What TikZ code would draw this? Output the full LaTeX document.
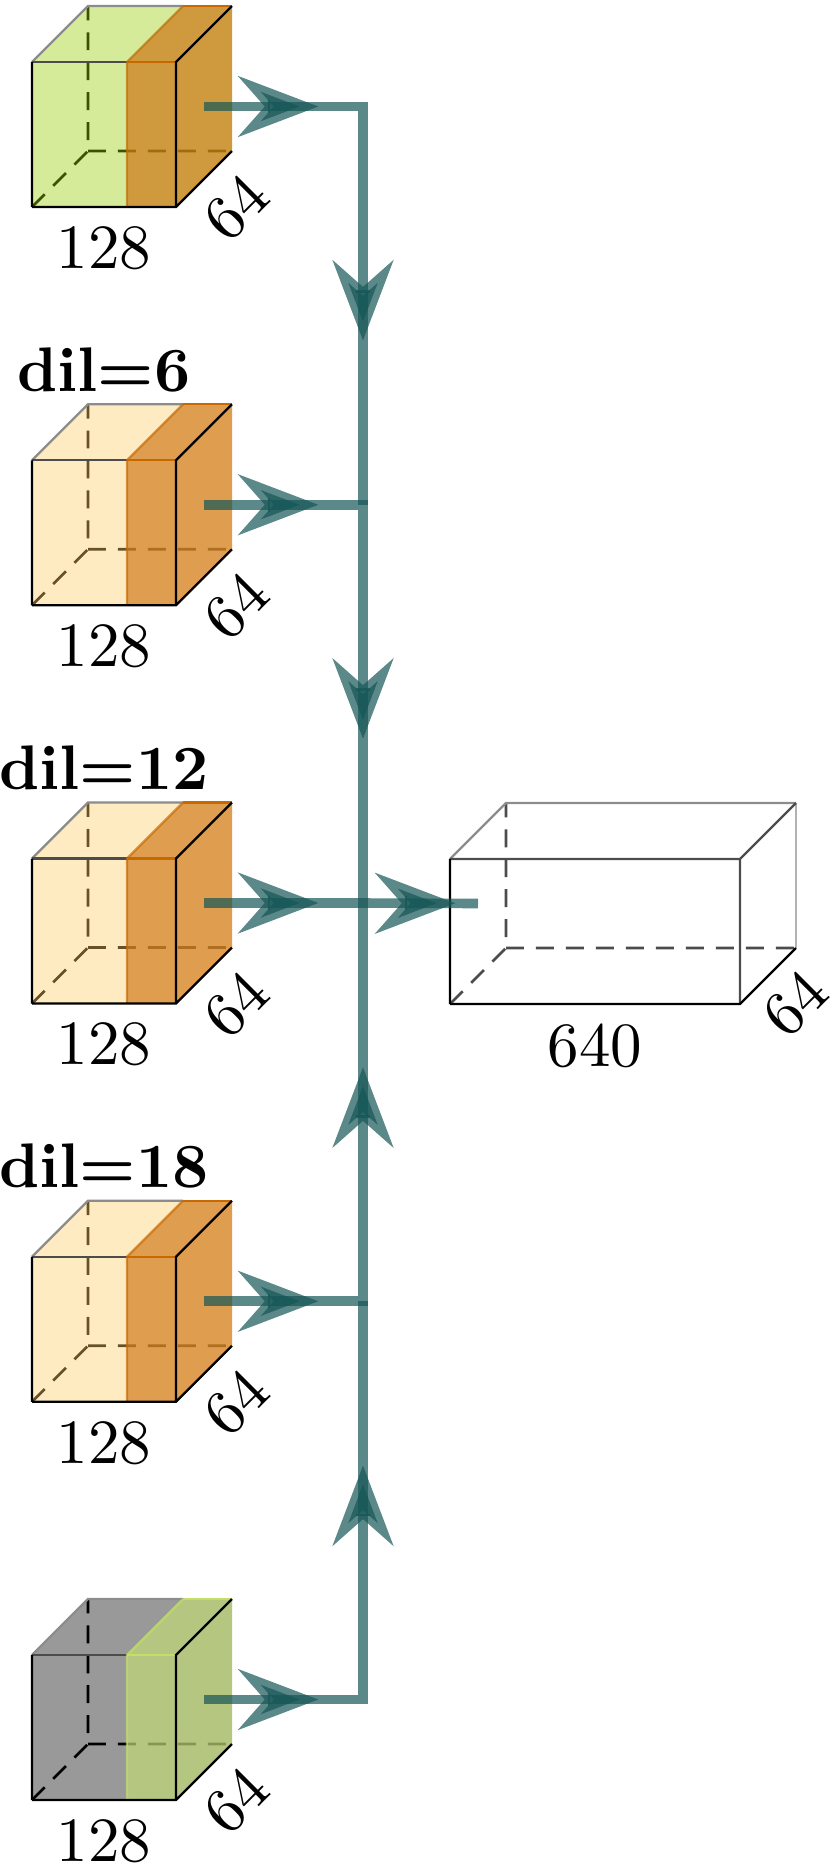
\documentclass[tikz,border=0pt]{standalone}
\usepackage{amssymb}
\usepackage{amsmath}
\usetikzlibrary{arrows.meta,calc}

\definecolor{edgecol}{RGB}{21,85,85}
\definecolor{lgreen}{RGB}{150,205,0}
\definecolor{dbrown}{RGB}{196,132,18}
\definecolor{peach}{RGB}{255,204,102}
\definecolor{dorange}{RGB}{215,135,40}
\definecolor{olive}{RGB}{165,185,101}
\definecolor{sorange}{RGB}{200,105,0}
\definecolor{sgreen}{RGB}{195,222,105}

\begin{document}
\begin{tikzpicture}[x=0.1667pt,y=-0.1667pt,
  every node/.style={font=\fontsize{10.5}{12.6}\selectfont},
  hidden/.style={densely dashed,black,line width=0.45pt},
  lightpart/.style={fill opacity=0.4},
  bandpart/.style={fill opacity=0.82},
  connection/.style={ultra thick,draw=edgecol,opacity=0.7},
  midarr/.style={-{Stealth},line width=0.8mm,draw=edgecol,opacity=0.7}]

\useasboundingbox (0,0) rectangle (830,1865);

% the five cubes
\foreach \k/\fa/\fb/\sb in {1/lgreen/dbrown/sorange,2/peach/dorange/sorange,3/peach/dorange/sorange,4/peach/dorange/sorange,5/black/olive/sgreen}
{
\pgfmathsetmacro{\yy}{62+398.25*(\k-1)}
\coordinate (a\k) at (32,\yy+145);
\coordinate (b\k) at (176,\yy+145);
\coordinate (c\k) at (176,\yy);
\coordinate (d\k) at (32,\yy);
\coordinate (m\k) at (127,\yy+145);
\coordinate (n\k) at (127,\yy);
\coordinate (A\k) at (88,\yy+89);
\coordinate (B\k) at (232,\yy+89);
\coordinate (C\k) at (232,\yy-56);
\coordinate (D\k) at (88,\yy-56);
\coordinate (N\k) at (183,\yy-56);

\draw[hidden] (a\k)--(A\k)--(D\k) (A\k)--(B\k);
\fill[\fa,lightpart] (a\k)--(m\k)--(n\k)--(d\k)--cycle (d\k)--(n\k)--(N\k)--(D\k)--cycle;
\fill[\fb,bandpart] (m\k)--(b\k)--(c\k)--(n\k)--cycle (n\k)--(c\k)--(C\k)--(N\k)--cycle (b\k)--(B\k)--(C\k)--(c\k)--cycle;
\draw[black!45] (d\k)--(D\k)--(N\k);
\draw[black!70] (d\k)--(n\k);
\draw[\sb] (N\k)--(C\k) (n\k)--(c\k);
\draw[\sb,opacity=0.7] (N\k)--(n\k)--(m\k);
\draw (a\k)--(b\k)--(B\k) (b\k)--(c\k)--(C\k) (a\k)--(d\k);

\node (s\k) at (104,\yy+186) {128};
\node[rotate=45] (z\k) at (236,\yy+146) {64};
}

\foreach \k/\dl in {2/6,3/12,4/18}
{
\pgfmathsetmacro{\yy}{62+398.25*(\k-1)}
\node[anchor=base,font=\fontsize{10.5}{12.6}\selectfont\bfseries] (dil\k) at (104,\yy-69) {dil=\dl};
}

% output box
\coordinate (oa) at (450,1004);
\coordinate (ob) at (740,1004);
\coordinate (oc) at (740,859);
\coordinate (od) at (450,859);
\coordinate (oA) at (506,948);
\coordinate (oB) at (796,948);
\coordinate (oC) at (796,803);
\coordinate (oD) at (506,803);

\draw[hidden,black!70] (oa)--(oA)--(oD) (oA)--(oB);
\draw[black!45] (od)--(oD)--(oC);
\draw[black!30] (oC)--(oB);
\draw[black!70] (od)--(oc)--(oC) (oc)--(ob);
\draw (oa)--(ob)--(oB) (oa)--(od);
\node (olab) at (595,1046) {640};
\node[rotate=45] (odep) at (795,1004) {64};

% connections
\foreach \k in {1,...,5}
{
\pgfmathsetmacro{\yy}{62+398.25*(\k-1)}
\coordinate (e\k) at (204,\yy+44.5);
\coordinate (j\k) at (363,\yy+44.5);
}
\coordinate (w) at (478,903.5);

\draw[connection] (e1)--(j1)--(j2);
\draw[connection] (e2)--(j2)--(j3);
\draw[connection] (e3)--(j3)--(w);
\draw[connection] (e5)--(j5)--(j4);
\draw[connection] (e4)--(j4)--(j3);

\foreach \k in {1,...,5}
\draw[midarr] ($(e\k)!0.5!(j\k)+(-16,0)$) -- ++(51,0);
\draw[midarr] ($(j3)!0.5!(w)+(-16,0)$) -- ++(51,0);
\draw[midarr] ($(j1)!0.5!(j2)+(0,-16)$) -- ++(0,51);
\draw[midarr] ($(j2)!0.5!(j3)+(0,-16)$) -- ++(0,51);
\draw[midarr] ($(j5)!0.5!(j4)+(0,16)$) -- ++(0,-51);
\draw[midarr] ($(j4)!0.5!(j3)+(0,16)$) -- ++(0,-51);
\end{tikzpicture}
\end{document}
